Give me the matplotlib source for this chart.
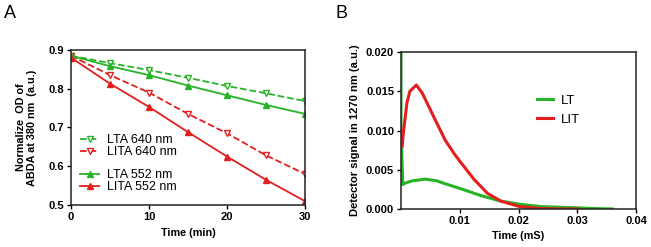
import matplotlib.pyplot as plt

plt.rcParams['font.family'] = ['Liberation Sans', 'DejaVu Sans']

# Panel A: ABDA bleaching
time_min = [0, 5, 10, 15, 20, 25, 30]
lta_640 = [0.885, 0.866, 0.848, 0.828, 0.807, 0.788, 0.768]
lita_640 = [0.885, 0.835, 0.790, 0.735, 0.685, 0.628, 0.580]
lta_552 = [0.885, 0.858, 0.835, 0.808, 0.783, 0.758, 0.735]
lita_552 = [0.880, 0.813, 0.753, 0.688, 0.625, 0.565, 0.510]

# Panel B: 1270 nm detector traces
lt_t = [0.0, 0.0, 0.0003, 0.0007, 0.0020, 0.0041, 0.0060, 0.0080, 0.0101,
        0.0136, 0.0170, 0.0202, 0.0238, 0.0298, 0.0330, 0.0360]
lt_sig = [0.0200, 0.0100, 0.0031, 0.0033, 0.0036, 0.0038, 0.0036, 0.0031, 0.0026,
          0.0017, 0.0010, 0.0006, 0.0003, 0.00015, 0.00005, 0.0000]
lit_t = [0.0002, 0.0004, 0.0010, 0.0015, 0.0026, 0.0036, 0.0047, 0.0058, 0.0075,
         0.0090, 0.0101, 0.0124, 0.0147, 0.0170, 0.0202, 0.0238, 0.0270, 0.0300]
lit_sig = [0.0080, 0.0097, 0.0135, 0.0150, 0.0158, 0.0148, 0.0131, 0.0114, 0.0088,
           0.0071, 0.0060, 0.0038, 0.0020, 0.0010, 0.0003, 0.00005, 0.0000, 0.0000]

green = '#27b327'
red = '#e31e1e'

fig = plt.figure(figsize=(6.51, 2.47), dpi=100)
axA = fig.add_axes([0.109, 0.170, 0.3595, 0.628])
axB = fig.add_axes([0.616, 0.154, 0.361, 0.635])

l1, = axA.plot(time_min, lta_640, ls='--', color=green, lw=1.3, marker='v', mfc='white',
               mec=green, ms=5, label='LTA 640 nm')
l2, = axA.plot(time_min, lita_640, ls='--', color=red, lw=1.3, marker='v', mfc='white',
               mec=red, ms=5, label='LITA 640 nm')
l3, = axA.plot(time_min, lta_552, ls='-', color=green, lw=1.3, marker='^', ms=5,
               label='LTA 552 nm')
l4, = axA.plot(time_min, lita_552, ls='-', color=red, lw=1.3, marker='^', ms=5,
               label='LITA 552 nm')

leg_kw = dict(frameon=False, fontsize=9, labelspacing=0.0, handlelength=1.5,
              handletextpad=0.6, borderpad=0.0, borderaxespad=0.0)
leg1 = axA.legend([l1, l2], ['LTA 640 nm', 'LITA 640 nm'], loc='center left',
                  bbox_to_anchor=(0.04, 0.38), **leg_kw)
axA.add_artist(leg1)
axA.legend([l3, l4], ['LTA 552 nm', 'LITA 552 nm'], loc='center left',
           bbox_to_anchor=(0.04, 0.155), **leg_kw)

axA.set_xlim(0, 30)
axA.set_ylim(0.5, 0.9)
axA.set_xticks([0, 10, 20, 30])
axA.set_yticks([0.5, 0.6, 0.7, 0.8, 0.9])
axA.set_xlabel('Time (min)', fontsize=7.8, fontweight='bold', labelpad=4)
axA.set_ylabel('Normalize  OD of\nABDA at 380 nm  (a.u.)', fontsize=7.8,
               fontweight='bold', labelpad=8)

axB.plot(lt_t, lt_sig, color=green, lw=2.2, label='LT')
axB.plot(lit_t, lit_sig, color=red, lw=2.2, label='LIT')
axB.legend(loc='center left', bbox_to_anchor=(0.53, 0.63), frameon=False,
           fontsize=9.5, handlelength=1.2, handletextpad=0.6, labelspacing=0.5)
axB.set_xlim(0, 0.04)
axB.set_ylim(0, 0.020)
axB.set_xticks([0.01, 0.02, 0.03, 0.04])
axB.set_xticklabels(['0.01', '0.02', '0.03', '0.04'])
axB.set_yticks([0.0, 0.005, 0.010, 0.015, 0.020])
axB.set_yticklabels(['0.000', '0.005', '0.010', '0.015', '0.020'])
axB.set_xlabel('Time (mS)', fontsize=7.8, fontweight='bold', labelpad=4)
axB.set_ylabel('Detector signal in 1270 nm (a.u.)', fontsize=8, fontweight='bold',
               labelpad=4)

for ax in (axA, axB):
    for s in ax.spines.values():
        s.set_linewidth(1.1)
        s.set_color('#222222')
    ax.tick_params(labelsize=8, width=1.0, length=3, pad=2)
    for t in ax.get_xticklabels() + ax.get_yticklabels():
        t.set_fontweight('bold')

fig.text(0.015, 0.945, 'A', fontsize=13, va='center', ha='center')
fig.text(0.524, 0.945, 'B', fontsize=13, va='center', ha='center')

fig.savefig('out.png', dpi=100)
